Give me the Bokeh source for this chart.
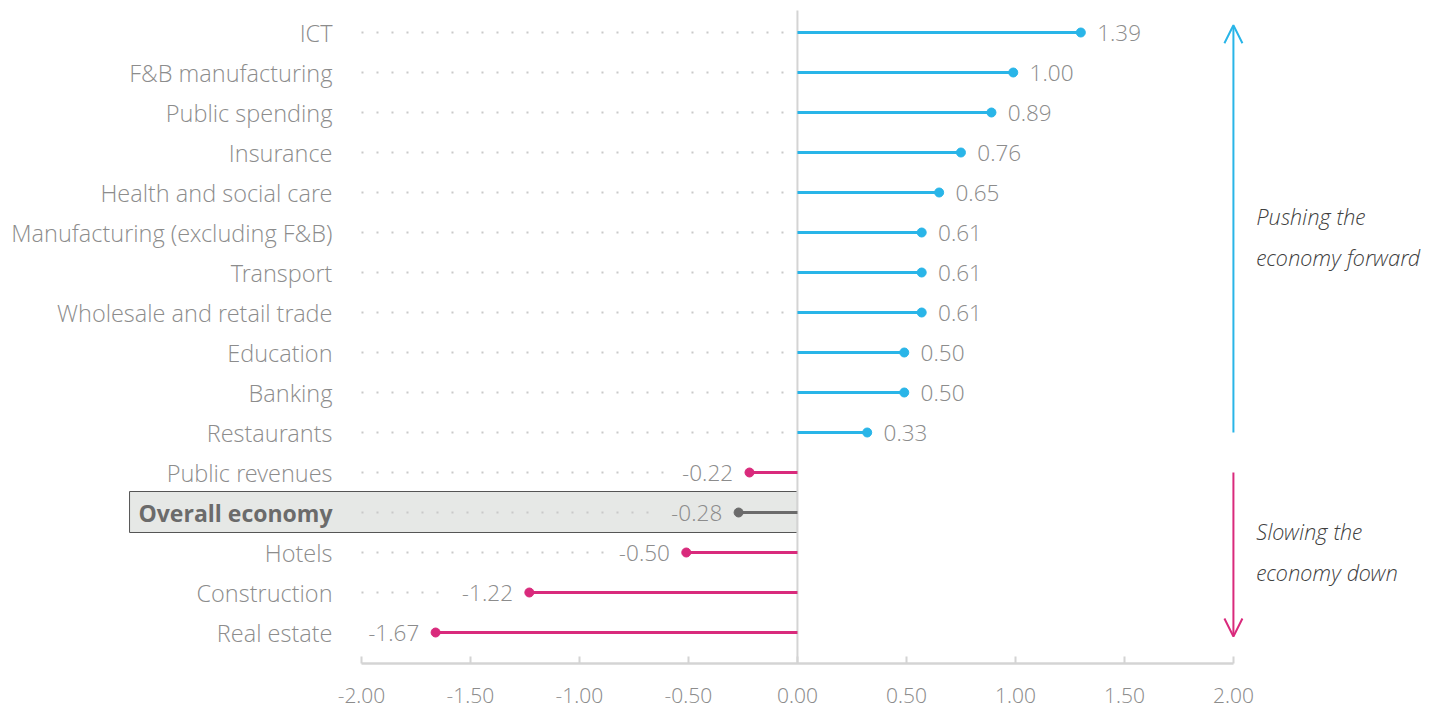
from bokeh.plotting import figure
from bokeh.models import Range1d, ColumnDataSource, FixedTicker, NumeralTickFormatter, Arrow, OpenHead
from bokeh.core.properties import value
from bokeh.embed import file_html
from bokeh.resources import INLINE

categories = ["ICT", "F&B manufacturing", "Public spending", "Insurance", "Health and social care",
              "Manufacturing (excluding F&B)", "Transport", "Wholesale and retail trade", "Education",
              "Banking", "Restaurants", "Public revenues", "Overall economy", "Hotels",
              "Construction", "Real estate"]
values = [1.30, 0.99, 0.89, 0.75, 0.65, 0.57, 0.57, 0.57, 0.49, 0.49, 0.32,
          -0.22, -0.27, -0.51, -1.23, -1.66]
value_labels = ["1.39", "1.00", "0.89", "0.76", "0.65", "0.61", "0.61", "0.61", "0.50", "0.50", "0.33",
                "-0.22", "-0.28", "-0.50", "-1.22", "-1.67"]
x_ticks = [-2.0, -1.5, -1.0, -0.5, 0.0, 0.5, 1.0, 1.5, 2.0]
highlight = "Overall economy"

BLUE = "#29b5e8"
MAGENTA = "#d92a7c"
DARK = "#6b6b6b"
LABEL = "#8c8c8c"
FONT_NAME = "Open Sans Light, Open Sans"
FONT = value(FONT_NAME)

n = len(categories)
rows = list(range(n))
colors = [DARK if c == highlight else (BLUE if v > 0 else MAGENTA) for c, v in zip(categories, values)]
dot_end = [(-0.05 if v > 0 else v - 0.37) for v in values]

p = figure(x_range=Range1d(-3.656, 2.950), y_range=Range1d(15.775, -0.8),
           frame_width=1440, frame_height=663, min_border=0, min_border_left=0,
           min_border_right=0, min_border_top=0, min_border_bottom=50,
           outline_line_color=None, toolbar_location=None, output_backend="svg",
           y_axis_location=None)
p.xgrid.visible = False
p.ygrid.visible = False
p.background_fill_color = "white"
p.border_fill_color = "white"

# highlight box
hi = categories.index(highlight)
p.quad(left=[-3.064], right=[0.0], top=[hi - 0.525], bottom=[hi + 0.5],
       fill_color="#e6e8e6", line_color="#555555", line_width=1)

# dotted guide lines
dsrc = ColumnDataSource(dict(
    x0=[-2.0 for r, e in zip(rows, dot_end) if e > -2.0],
    x1=[e for e in dot_end if e > -2.0],
    y=[r for r, e in zip(rows, dot_end) if e > -2.0]))
p.segment(x0="x0", y0="y", x1="x1", y1="y", source=dsrc, line_color="#c9c9c9",
          line_width=2, line_dash="2 13")

# zero line
p.segment(x0=[0], y0=[-0.55], x1=[0], y1=[15.775], line_color="#d4d4d4", line_width=2)

src = ColumnDataSource(dict(
    y=rows, v=values, zero=[0.0] * n, c=colors, lab=value_labels,
    lx=[v + 0.075 if v > 0 else v - 0.075 for v in values],
    la=["left" if v > 0 else "right" for v in values],
))

p.segment(x0="zero", y0="y", x1="v", y1="y", source=src, line_color="c", line_width=3)
p.scatter(x="v", y="y", source=src, size=9, fill_color="c", line_color="c")

p.text(x="lx", y="y", text="lab", source=src, text_align="la", text_baseline="middle",
       text_font=FONT, text_font_size="22.5px", text_color=LABEL)

# category labels
norm = ColumnDataSource(dict(
    x=[-2.133] * (n - 1),
    y=[r for r, c in zip(rows, categories) if c != highlight],
    t=[c for c in categories if c != highlight]))
p.text(x="x", y="y", text="t", source=norm, text_align="right", text_baseline="middle",
       text_font=FONT, text_font_size="23.5px", text_color=LABEL)
bold = ColumnDataSource(dict(x=[-2.133], y=[hi], t=[highlight]))
p.text(x="x", y="y", text="t", source=bold, text_align="right", text_baseline="middle",
       text_font=value("Open Sans"), text_font_size="23px", text_font_style="bold",
       text_color=DARK)

# arrows
p.add_layout(Arrow(end=OpenHead(size=18, line_color=BLUE, line_width=2),
                   x_start=2.0, y_start=10.0, x_end=2.0, y_end=-0.18,
                   line_color=BLUE, line_width=2))
p.add_layout(Arrow(end=OpenHead(size=18, line_color=MAGENTA, line_width=2),
                   x_start=2.0, y_start=11.0, x_end=2.0, y_end=15.1,
                   line_color=MAGENTA, line_width=2))

ann = ColumnDataSource(dict(x=[2.105] * 4, y=[4.575, 5.6, 12.45, 13.475],
                            t=["Pushing the", "economy forward", "Slowing the", "economy down"]))
p.text(x="x", y="y", text="t", source=ann, text_align="left", text_baseline="middle",
       text_font=FONT, text_font_size="22px", text_font_style="italic", text_color="#3f3f3f")

# x axis
ax = p.xaxis[0]
ax.ticker = FixedTicker(ticks=x_ticks)
ax.formatter = NumeralTickFormatter(format="0.00")
ax.bounds = (-2.0, 2.0)
ax.axis_line_color = "#d4d4d4"
ax.axis_line_width = 2.5
ax.major_tick_line_color = "#d4d4d4"
ax.major_tick_line_width = 2
ax.major_tick_in = 7
ax.major_tick_out = 0
ax.minor_tick_line_color = None
ax.major_label_text_font = FONT_NAME
ax.major_label_text_font_size = "21px"
ax.major_label_text_color = LABEL
ax.major_label_standoff = 24

open("out.html", "w").write(file_html(p, INLINE))
